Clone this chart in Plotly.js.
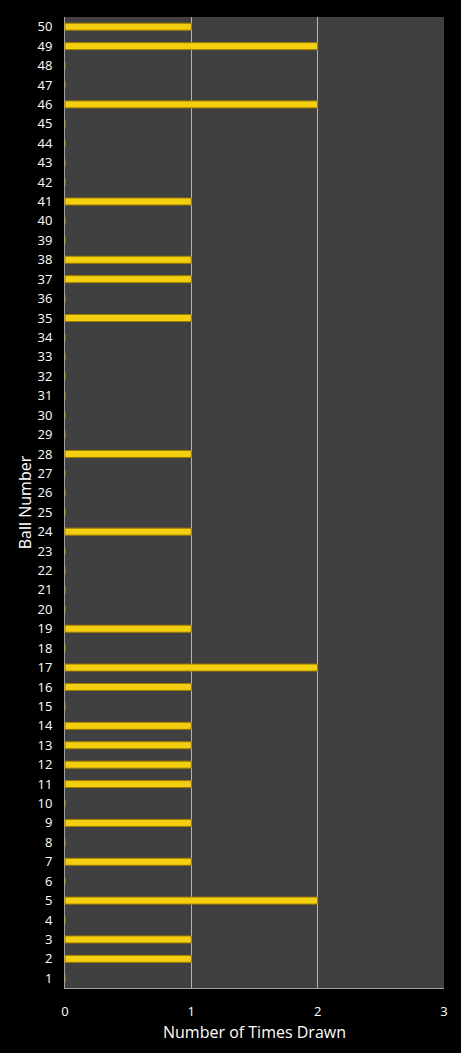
<!DOCTYPE html>
<html>
<head>
<meta charset="utf-8">
<script src="https://cdn.plot.ly/plotly-3.0.1.min.js"></script>
<style>
  html, body { margin: 0; padding: 0; background: #000; }
  #plot { width: 461px; height: 1053px; }
</style>
</head>
<body>
<div id="plot"></div>
<script>
// ball numbers 1..50 and how often each was drawn
var balls = [];
for (var i = 1; i <= 50; i++) balls.push(i);

var timesDrawn = [
  0, 1, 1, 0, 2, 0, 1, 0, 1, 0,   // 1-10
  1, 1, 1, 1, 0, 1, 2, 0, 1, 0,   // 11-20
  0, 0, 0, 1, 0, 0, 0, 1, 0, 0,   // 21-30
  0, 0, 0, 0, 1, 0, 1, 1, 0, 0,   // 31-40
  1, 0, 0, 0, 0, 2, 0, 0, 2, 1    // 41-50
];

var xTicks = [0, 1, 2, 3];

var drawn = {
  type: 'bar',
  orientation: 'h',
  y: balls,
  x: timesDrawn,
  width: 0.36,
  marker: {
    color: '#f4cf10',
    line: { color: '#a07c00', width: 1 }
  },
  hoverinfo: 'x+y'
};

var font = 'Open Sans, DejaVu Sans, sans-serif';

var layout = {
  width: 461,
  height: 1053,
  paper_bgcolor: '#000000',
  plot_bgcolor: '#404040',
  margin: { l: 65, r: 17, t: 17, b: 65 },
  showlegend: false,
  font: { family: font, color: '#ffffff', size: 13 },
  xaxis: {
    range: [0, 3],
    tickvals: xTicks,
    ticktext: xTicks.map(String),
    showgrid: true,
    gridcolor: '#b4b4b4',
    gridwidth: 1,
    zeroline: false,
    showline: true,
    linecolor: '#a0a0a0',
    ticks: 'outside',
    ticklen: 11,
    tickcolor: 'rgba(0,0,0,0)',
    tickfont: { size: 13, color: '#ffffff' },
    title: { text: 'Number of Times Drawn', font: { size: 16, color: '#ffffff' }, standoff: 8 },
    fixedrange: true
  },
  yaxis: {
    range: [0.5, 50.5],
    tickvals: balls,
    ticktext: balls.map(String),
    showgrid: false,
    zeroline: false,
    showline: true,
    linecolor: '#a0a0a0',
    ticks: 'outside',
    ticklen: 9,
    tickcolor: 'rgba(0,0,0,0)',
    tickfont: { size: 13, color: '#ffffff' },
    title: { text: 'Ball Number', font: { size: 16, color: '#ffffff' }, standoff: 1 },
    fixedrange: true
  }
};

Plotly.newPlot('plot', [drawn], layout, { displayModeBar: false, staticPlot: true });
</script>
</body>
</html>
